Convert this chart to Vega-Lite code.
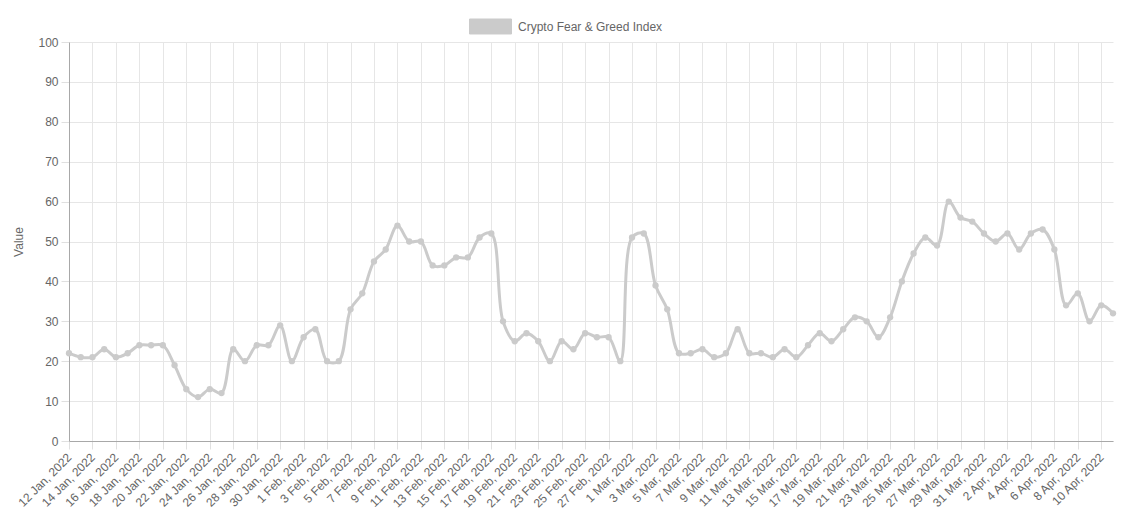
{
  "$schema": "https://vega.github.io/schema/vega-lite/v6.json",
  "autosize": "none",
  "width": 1044,
  "height": 399,
  "padding": {"left": 69, "top": 42, "right": 18, "bottom": 78},
  "background": "white",
  "data": {
    "values": [
      {"date": "2022-01-12", "value": 22}, {"date": "2022-01-13", "value": 21}, {"date": "2022-01-14", "value": 21},
      {"date": "2022-01-15", "value": 23}, {"date": "2022-01-16", "value": 21}, {"date": "2022-01-17", "value": 22},
      {"date": "2022-01-18", "value": 24}, {"date": "2022-01-19", "value": 24}, {"date": "2022-01-20", "value": 24},
      {"date": "2022-01-21", "value": 19}, {"date": "2022-01-22", "value": 13}, {"date": "2022-01-23", "value": 11},
      {"date": "2022-01-24", "value": 13}, {"date": "2022-01-25", "value": 12}, {"date": "2022-01-26", "value": 23},
      {"date": "2022-01-27", "value": 20}, {"date": "2022-01-28", "value": 24}, {"date": "2022-01-29", "value": 24},
      {"date": "2022-01-30", "value": 29}, {"date": "2022-01-31", "value": 20},
      {"date": "2022-02-01", "value": 26}, {"date": "2022-02-02", "value": 28}, {"date": "2022-02-03", "value": 20},
      {"date": "2022-02-04", "value": 20}, {"date": "2022-02-05", "value": 33}, {"date": "2022-02-06", "value": 37},
      {"date": "2022-02-07", "value": 45}, {"date": "2022-02-08", "value": 48}, {"date": "2022-02-09", "value": 54},
      {"date": "2022-02-10", "value": 50}, {"date": "2022-02-11", "value": 50}, {"date": "2022-02-12", "value": 44},
      {"date": "2022-02-13", "value": 44}, {"date": "2022-02-14", "value": 46}, {"date": "2022-02-15", "value": 46},
      {"date": "2022-02-16", "value": 51}, {"date": "2022-02-17", "value": 52}, {"date": "2022-02-18", "value": 30},
      {"date": "2022-02-19", "value": 25}, {"date": "2022-02-20", "value": 27}, {"date": "2022-02-21", "value": 25},
      {"date": "2022-02-22", "value": 20}, {"date": "2022-02-23", "value": 25}, {"date": "2022-02-24", "value": 23},
      {"date": "2022-02-25", "value": 27}, {"date": "2022-02-26", "value": 26}, {"date": "2022-02-27", "value": 26},
      {"date": "2022-02-28", "value": 20},
      {"date": "2022-03-01", "value": 51}, {"date": "2022-03-02", "value": 52}, {"date": "2022-03-03", "value": 39},
      {"date": "2022-03-04", "value": 33}, {"date": "2022-03-05", "value": 22}, {"date": "2022-03-06", "value": 22},
      {"date": "2022-03-07", "value": 23}, {"date": "2022-03-08", "value": 21}, {"date": "2022-03-09", "value": 22},
      {"date": "2022-03-10", "value": 28}, {"date": "2022-03-11", "value": 22}, {"date": "2022-03-12", "value": 22},
      {"date": "2022-03-13", "value": 21}, {"date": "2022-03-14", "value": 23}, {"date": "2022-03-15", "value": 21},
      {"date": "2022-03-16", "value": 24}, {"date": "2022-03-17", "value": 27}, {"date": "2022-03-18", "value": 25},
      {"date": "2022-03-19", "value": 28}, {"date": "2022-03-20", "value": 31}, {"date": "2022-03-21", "value": 30},
      {"date": "2022-03-22", "value": 26}, {"date": "2022-03-23", "value": 31}, {"date": "2022-03-24", "value": 40},
      {"date": "2022-03-25", "value": 47}, {"date": "2022-03-26", "value": 51}, {"date": "2022-03-27", "value": 49},
      {"date": "2022-03-28", "value": 60}, {"date": "2022-03-29", "value": 56}, {"date": "2022-03-30", "value": 55},
      {"date": "2022-03-31", "value": 52},
      {"date": "2022-04-01", "value": 50}, {"date": "2022-04-02", "value": 52}, {"date": "2022-04-03", "value": 48},
      {"date": "2022-04-04", "value": 52}, {"date": "2022-04-05", "value": 53}, {"date": "2022-04-06", "value": 48},
      {"date": "2022-04-07", "value": 34}, {"date": "2022-04-08", "value": 37}, {"date": "2022-04-09", "value": 30},
      {"date": "2022-04-10", "value": 34}, {"date": "2022-04-11", "value": 32}
    ]
  },
  "encoding": {
    "x": {
      "field": "date",
      "type": "temporal",
      "scale": {
        "type": "utc",
        "domain": [
          {"year": 2022, "month": 1, "date": 12, "utc": true},
          {"year": 2022, "month": 4, "date": 11, "utc": true}
        ]
      },
      "axis": {
        "title": null,
        "values": [
          1641945600000, 1642118400000, 1642291200000, 1642464000000, 1642636800000,
          1642809600000, 1642982400000, 1643155200000, 1643328000000, 1643500800000,
          1643673600000, 1643846400000, 1644019200000, 1644192000000, 1644364800000,
          1644537600000, 1644710400000, 1644883200000, 1645056000000, 1645228800000,
          1645401600000, 1645574400000, 1645747200000, 1645920000000, 1646092800000,
          1646265600000, 1646438400000, 1646611200000, 1646784000000, 1646956800000,
          1647129600000, 1647302400000, 1647475200000, 1647648000000, 1647820800000,
          1647993600000, 1648166400000, 1648339200000, 1648512000000, 1648684800000,
          1648857600000, 1649030400000, 1649203200000, 1649376000000, 1649548800000
        ],
        "labelExpr": "utcFormat(datum.value, '%-d %b, %Y')",
        "labelAngle": -45,
        "labelAlign": "right",
        "labelBaseline": "middle",
        "labelPadding": 6,
        "labelOverlap": false,
        "labelBound": false,
        "labelFlush": false,
        "tickSize": 8
      }
    },
    "y": {
      "field": "value",
      "type": "quantitative",
      "scale": {"domain": [0, 100], "nice": false},
      "axis": {
        "title": "Value",
        "values": [0, 10, 20, 30, 40, 50, 60, 70, 80, 90, 100],
        "tickSize": 8,
        "labelPadding": 3,
        "titlePadding": 12
      }
    },
    "color": {
      "datum": "Crypto Fear & Greed Index",
      "scale": {"range": ["#cbcbcb"]},
      "legend": {
        "title": null,
        "orient": "none",
        "legendX": 400,
        "legendY": -37,
        "padding": 0,
        "symbolType": "M-1,-0.357H1V0.357H-1Z",
        "symbolSize": 1764,
        "symbolFillColor": "#cbcbcb",
        "symbolStrokeColor": "#cbcbcb",
        "symbolStrokeWidth": 1,
        "symbolOpacity": 1,
        "labelOffset": 6,
        "labelFontSize": 12,
        "labelColor": "#666666",
        "labelFont": "Liberation Sans"
      }
    }
  },
  "layer": [
    {"mark": {"type": "line", "interpolate": "catmull-rom", "strokeWidth": 3}},
    {"mark": {"type": "point", "filled": true, "opacity": 1, "size": 40}}
  ],
  "config": {
    "view": {"stroke": null},
    "font": "Liberation Sans",
    "axis": {
      "labelFont": "Liberation Sans",
      "labelFontSize": 12,
      "labelColor": "#666666",
      "titleFont": "Liberation Sans",
      "titleFontSize": 12,
      "titleFontWeight": "normal",
      "titleColor": "#666666",
      "gridColor": "#e6e6e6",
      "gridWidth": 1,
      "domainColor": "#a8a8a8",
      "tickColor": "#e0e0e0",
      "tickWidth": 1
    }
  }
}
